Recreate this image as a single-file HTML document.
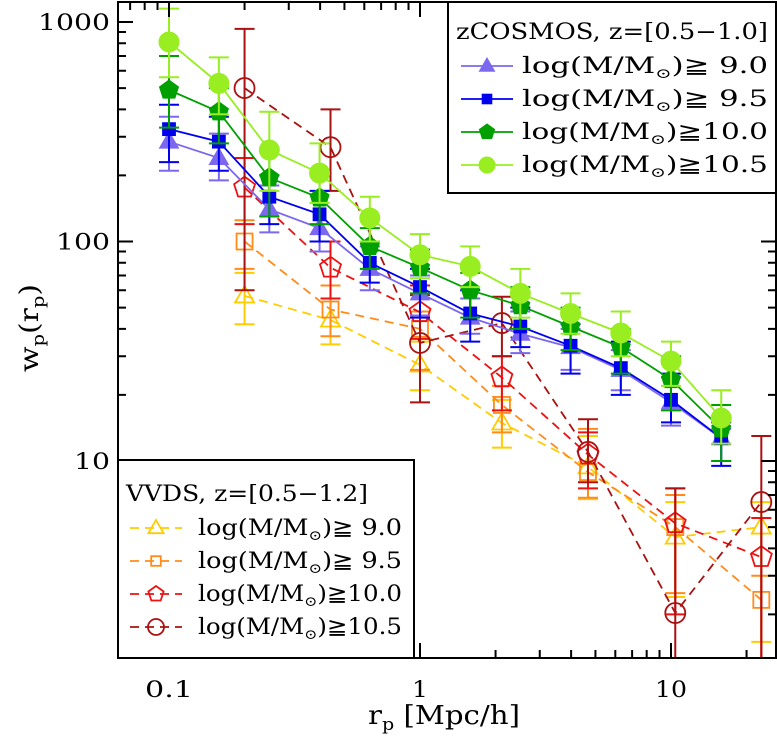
<!DOCTYPE html>
<html><head><meta charset="utf-8"><style>
html,body{margin:0;padding:0;background:#fff;}
svg{display:block;font-family:"DejaVu Serif","Liberation Serif",serif;}
</style></head><body>
<svg id="chart" width="777" height="736" viewBox="0 0 777 736" xmlns="http://www.w3.org/2000/svg">
<defs><clipPath id="clip"><rect x="118" y="2" width="658" height="656"/></clipPath></defs>
<g id="data" clip-path="url(#clip)"></g>
<g id="axes"></g>
<g id="legends"></g>
</svg>
<script>
// ---- data ----
const zX = [0.1,0.158,0.251,0.398,0.631,1.0,1.585,2.51,3.98,6.31,10,15.85];
const z90 = [285,240,140,115,75,58,45,38,33,26,18.5,12.7];
const z90hi = [370,310,180,150,95,70,55,48,40,32,24,14];
const z90lo = [210,190,110,90,60,46,38,31,26,21,14.5,10];
const z95 = [325,285,160,133,80,62,47,41,33.5,26.5,19,12.7];
const z95hi = [420,370,200,170,100,75,60,50,42,35,25,15];
const z95lo = [230,210,120,100,65,45,35,33,25,20,15,9.5];
const z100 = [490,390,195,158,95,76,60,51,41,33,23.5,14];
const z100hi = [700,500,260,200,115,92,72,62,50,40,30,18];
const z100lo = [330,280,130,120,75,58,45,40,32,25,17,10];
const z105 = [811,525,261,205,128,87,77,58,47,38.3,28.5,15.7];
const z105hi = [1150,690,390,280,160,108,95,75,58,48,35,21];
const z105lo = [560,380,170,150,100,68,62,45,38,30,22,12];
const vX = [0.2,0.44,1.0,2.12,4.67,10.4,22.9];
const v90 = [56.5,43.9,27.4,14.9,9.4,4.5,5.0];
const v90hi = [72,55,35,19,13,6.5,6.5];
const v90lo = [42,34,21,11.5,6.7,2.4,1.5];
const v95 = [100,49,40,18,8.9,5.0,2.33];
const v95hi = [125,63,48,22,14,7,3];
const v95lo = [75,37,26,13.5,6.8,2.5,1];
const v100 = [176,76,47.6,24,10.7,5.2,3.65];
const v100hi = [240,100,63,30,13.5,7.5,5.5];
const v100lo = [120,55,36,17,7.5,2,1];
const v105 = [500,269,34.5,42.5,11,2.03,6.5];
const v105hi = [930,400,57,56,15.5,7.5,13];
const v105lo = [60,170,18.5,30,8,1,1];
const xTickLabels = ["0.1","1","10"];
const yTickLabels = ["10","100","1000"];

// ---- axes ----
const L=118,R=776,T=2,B=658;
function xs(v){return 169+251*(Math.log10(v)+1);}
function ys(v){return 461-219.5*(Math.log10(v)-1);}
const NS="http://www.w3.org/2000/svg";
function mk(tag,attrs,parent){const e=document.createElementNS(NS,tag);for(const k in attrs)e.setAttribute(k,attrs[k]);parent.appendChild(e);return e;}
const gD=document.getElementById('data'),gA=document.getElementById('axes'),gL=document.getElementById('legends');

function marker(shape,x,y,color,filled,size,parent){
  const s=size||10;
  let e;
  if(shape==='tri'){e=mk('polygon',{points:`${x},${y-s} ${x-s*0.95},${y+s*0.65} ${x+s*0.95},${y+s*0.65}`},parent);}
  else if(shape==='sq'){e=mk('rect',{x:x-s*0.8,y:y-s*0.8,width:s*1.6,height:s*1.6},parent);}
  else if(shape==='pent'){let p=[];for(let i=0;i<5;i++){const a=-Math.PI/2+i*2*Math.PI/5;p.push((x+s*Math.cos(a)).toFixed(1)+','+(y+s*Math.sin(a)).toFixed(1));}e=mk('polygon',{points:p.join(' ')},parent);}
  else {e=mk('circle',{cx:x,cy:y,r:s},parent);}
  e.setAttribute('fill',filled?color:'none');e.setAttribute('stroke',color);e.setAttribute('stroke-width',filled?1:1.8);
  return e;
}
function series(name,X,Y,HI,LO,color,shape,filled,dashed,size){
  const g=mk('g',{},gD);
  
  
  const pts=X.map((x,i)=>xs(x).toFixed(1)+','+ys(Y[i]).toFixed(1)).join(' ');
  const ln=mk('polyline',{points:pts,fill:'none',stroke:color,'stroke-width':1.8},g);
  if(dashed)ln.setAttribute('stroke-dasharray','9,6');
  
  
  X.forEach((x,i)=>{
    const px=xs(x),h=ys(HI[i]),l=ys(LO[i]);
    const eb=mk('path',{d:`M${px},${h}V${l}M${px-10},${h}H${px+10}M${px-10},${l}H${px+10}`,stroke:color,'stroke-width':2,fill:'none'},g);
    
    
    const m=marker(shape,px,ys(Y[i]),color,filled,size,g);
    
    
  });
}
series('vvds-9.0',vX,v90,v90hi,v90lo,'#ffcc00','tri',false,true,10);
series('vvds-9.5',vX,v95,v95hi,v95lo,'#ff8c1a','sq',false,true,10);
series('vvds-10.0',vX,v100,v100hi,v100lo,'#ee1111','pent',false,true,11);
series('vvds-10.5',vX,v105,v105hi,v105lo,'#aa1111','circ',false,true,10);
series('zcosmos-9.0',zX,z90,z90hi,z90lo,'#7b68ee','tri',true,false,10);
series('zcosmos-9.5',zX,z95,z95hi,z95lo,'#0000ee','sq',true,false,8);
series('zcosmos-10.0',zX,z100,z100hi,z100lo,'#00a000','pent',true,false,10);
series('zcosmos-10.5',zX,z105,z105hi,z105lo,'#99ee22','circ',true,false,10);

// frame and ticks
const fr=mk('rect',{x:L,y:T,width:R-L,height:B-T,fill:'none',stroke:'#000','stroke-width':2},gA);


let td='';
for(let d=-2;d<=1;d++)for(let k=1;k<10;k++){const v=k*Math.pow(10,d);const px=xs(v);if(px<L||px>R)continue;const len=k===1?15:8;td+=`M${px},${B}v${-len}M${px},${T}v${len}`;}
for(let d=0;d<=3;d++)for(let k=1;k<10;k++){const v=k*Math.pow(10,d);const py=ys(v);if(py<T||py>B)continue;const len=k===1?15:8;td+=`M${L},${py}h${len}M${R},${py}h${-len}`;}
mk('path',{d:td,stroke:'#000','stroke-width':2,fill:'none'},gA);
[0.1,1,10].forEach((v,i)=>{const t=mk('text',{x:xs(v),y:697,'text-anchor':'middle','font-size':22,textLength:xTickLabels[i].length*16,lengthAdjust:'spacingAndGlyphs'},gA);t.textContent=xTickLabels[i];

});
[10,100,1000].forEach((v,i)=>{const t=mk('text',{x:110,y:ys(v)+8,'text-anchor':'end','font-size':22,textLength:yTickLabels[i].length*18,lengthAdjust:'spacingAndGlyphs'},gA);t.textContent=yTickLabels[i];

});
const xt=mk('text',{x:368,y:724,'font-size':26,textLength:152,lengthAdjust:'spacingAndGlyphs'},gA);
xt.innerHTML='r<tspan font-size="17" dy="6">p</tspan><tspan dy="-6"> [Mpc/h]</tspan>';


const yt=mk('text',{x:0,y:0,'text-anchor':'middle','font-size':26,textLength:88,lengthAdjust:'spacingAndGlyphs',transform:'translate(38,328) rotate(-90)'},gA);
yt.innerHTML='w<tspan font-size="17" dy="6">p</tspan><tspan dy="-6">(r</tspan><tspan font-size="17" dy="6">p</tspan><tspan dy="-6">)</tspan>';



// legends
function legend(name,bx,by,bw,bh,title,entries,mx,lx,ty,dy,dashed,titleLen,entryLen){
  const g=mk('g',{},gL);
  
  
  mk('rect',{x:bx,y:by,width:bw,height:bh,fill:'#fff',stroke:'#000','stroke-width':2},g);
  const t=mk('text',{x:bx+8,y:ty,'font-size':22,textLength:titleLen,lengthAdjust:'spacingAndGlyphs'},g);t.textContent=title;
  entries.forEach((e,i)=>{
    const y=ty+34+i*dy;
    const ln=mk('line',{x1:mx-26,y1:y-7,x2:mx+26,y2:y-7,stroke:e[0],'stroke-width':1.8},g);
    if(dashed)ln.setAttribute('stroke-dasharray','9,6');
    marker(e[1],mx,y-7,e[0],!dashed,e[3],g);
    const tx=mk('text',{x:lx,y:y,'font-size':22,textLength:entryLen,lengthAdjust:'spacingAndGlyphs'},g);
    tx.innerHTML='log(M/M<tspan font-size="14" dy="5">⊙</tspan><tspan dy="-5">)≧'+e[2]+'</tspan>';
    
    
  });
}
legend('zcosmos-legend',448,2,328,191,'zCOSMOS, z=[0.5−1.0]',[
 ['#7b68ee','tri',' 9.0',8],['#0000ee','sq',' 9.5',6],['#00a000','pent','10.0',8],['#99ee22','circ','10.5',8]],487,522,39,33,false,312,246);
legend('vvds-legend',118,460,296,198,'VVDS, z=[0.5−1.2]',[
 ['#ffcc00','tri',' 9.0',8],['#ff8c1a','sq',' 9.5',6],['#ee1111','pent','10.0',8],['#aa1111','circ','10.5',8]],156,198,501,33,true,242,204);
</script>
</body></html>
